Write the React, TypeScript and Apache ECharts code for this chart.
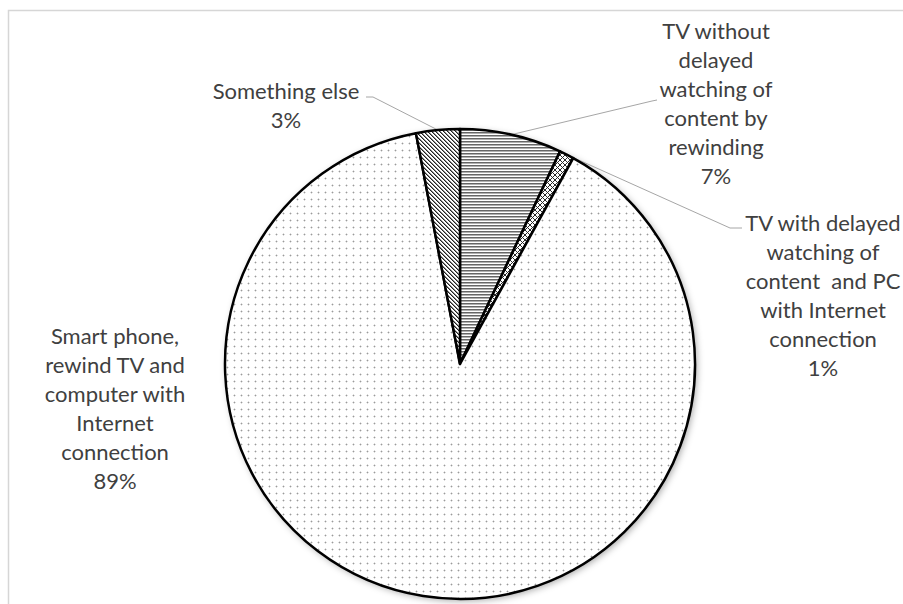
import React, { useEffect, useRef } from "react";
import * as echarts from "echarts";

const categories = [
  "TV without\ndelayed\nwatching of\ncontent by\nrewinding",
  "TV with delayed\nwatching of\ncontent  and PC\nwith Internet\nconnection",
  "Smart phone,\nrewind TV and\ncomputer with\nInternet\nconnection",
  "Something else",
];
const values = [7, 1, 89, 3];

// label block centres (layout only)
const labelCenters: [number, number][] = [
  [716, 103],
  [823, 295],
  [115, 408],
  [286, 105],
];
// leader line bend / end points (layout only)
const leaderEnds: ([number, number][] | null)[] = [
  [[652, 101], [657, 100]],
  [[730, 228], [742, 228]],
  null,
  [[373, 97], [366, 97]],
];

function makeTile(w: number, h: number, draw: (ctx: CanvasRenderingContext2D) => void) {
  const c = document.createElement("canvas");
  c.width = w;
  c.height = h;
  const ctx = c.getContext("2d")!;
  ctx.fillStyle = "#ffffff";
  ctx.fillRect(0, 0, w, h);
  draw(ctx);
  return c;
}

export default function App() {
  const ref = useRef<HTMLDivElement>(null);
  useEffect(() => {
    document.body.style.margin = "0";
    const chart = echarts.init(ref.current!, null, { renderer: "svg" });

    const horiz = makeTile(4, 3, (ctx) => {
      ctx.fillStyle = "#666666";
      ctx.fillRect(0, 0, 4, 1);
      ctx.fillStyle = "#b0b0b0";
      ctx.fillRect(0, 1, 4, 1);
    });
    const cross = makeTile(5, 5, (ctx) => {
      ctx.fillStyle = "#2a2a2a";
      for (let i = 0; i < 5; i++) {
        ctx.fillRect(i, i, 1, 1);
        ctx.fillRect(i, 4 - i, 1, 1);
      }
    });
    const dots = makeTile(7, 7, (ctx) => {
      ctx.fillStyle = "#dcdcdc";
      ctx.fillRect(2, 3, 3, 1);
      ctx.fillRect(3, 2, 1, 3);
      ctx.fillStyle = "#9a9a9a";
      ctx.fillRect(3, 3, 1, 1);
    });
    const diag = makeTile(4, 4, (ctx) => {
      for (let i = 0; i < 4; i++) {
        ctx.fillStyle = "#222222";
        ctx.fillRect(i, i, 1, 1);
        ctx.fillStyle = "#8a8a8a";
        ctx.fillRect((i + 1) % 4, i, 1, 1);
      }
    });
    const patterns = [horiz, cross, dots, diag];

    const data = categories.map((name, i) => ({
      name,
      value: values[i],
      itemStyle: { color: { image: patterns[i], repeat: "repeat" } as any },
      labelLine: { show: leaderEnds[i] !== null },
    }));

    chart.setOption({
      animation: false,
      graphic: [
        {
          type: "rect",
          shape: { x: 8.5, y: 10.5, width: 2000, height: 2000 },
          style: { fill: "none", stroke: "#d6d6d6", lineWidth: 1.5 },
          silent: true,
          z: 0,
        },
      ],
      series: [
        {
          type: "pie",
          center: [460, 364],
          radius: 235,
          silent: true,
          z: 1,
          data: [{ value: 1, name: "" }],
          label: { show: false },
          labelLine: { show: false },
          itemStyle: {
            color: "#ffffff",
            shadowBlur: 7,
            shadowOffsetX: 2,
            shadowOffsetY: 2,
            shadowColor: "rgba(0,0,0,0.35)",
          },
        },
        {
          type: "pie",
          center: [460, 364],
          radius: 235,
          startAngle: 90,
          clockwise: true,
          z: 2,
          avoidLabelOverlap: false,
          data,
          itemStyle: { borderColor: "#000000", borderWidth: 2.5 },
          label: {
            show: true,
            position: "outside",
            formatter: "{b}\n{d}%",
            fontFamily: "Lato",
            fontSize: 22,
            lineHeight: 29,
            color: "#404040",
            align: "center",
          },
          labelLine: {
            show: true,
            lineStyle: { color: "#a6a6a6", width: 1 },
          },
          labelLayout: (params: any) => {
            const i = params.dataIndex;
            const [x, y] = labelCenters[i];
            const out: any = { x, y, align: "center", verticalAlign: "middle" };
            const ends = leaderEnds[i];
            if (ends && params.labelLinePoints) {
              out.labelLinePoints = [params.labelLinePoints[0], ends[0], ends[1]];
            }
            return out;
          },
        },
      ],
    });
    return () => chart.dispose();
  }, []);
  return <div ref={ref} style={{ width: 903, height: 604 }} />;
}
